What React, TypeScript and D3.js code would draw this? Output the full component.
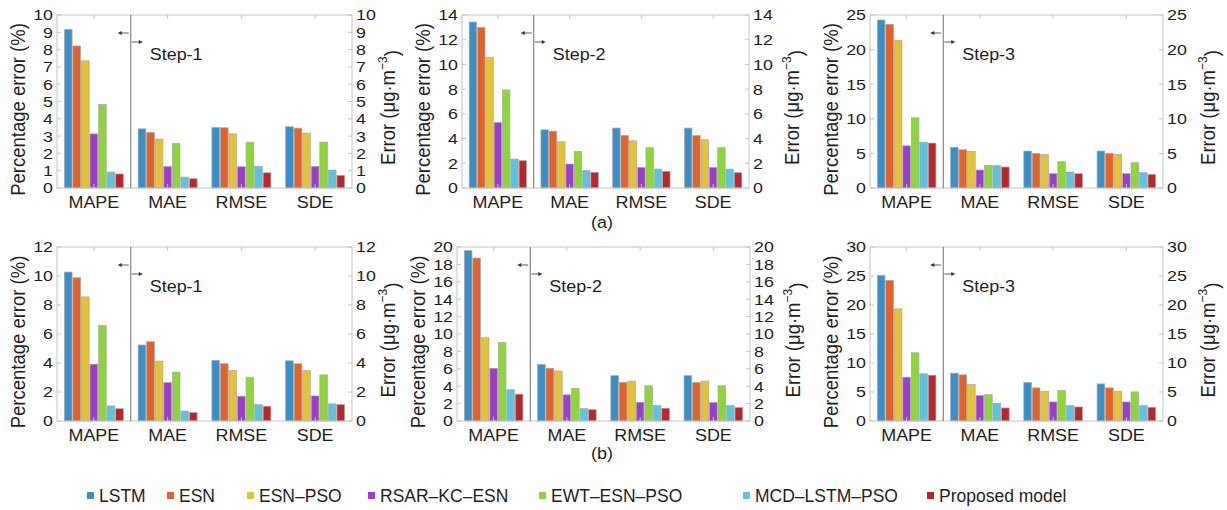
import React from "react";
import * as d3 from "d3";

const categories = ["MAPE", "MAE", "RMSE", "SDE"];
const models = ["LSTM", "ESN", "ESN\u2013PSO", "RSAR\u2013KC\u2013ESN", "EWT\u2013ESN\u2013PSO", "MCD\u2013LSTM\u2013PSO", "Proposed model"];

// values per category (MAPE, MAE, RMSE, SDE), each listing the 7 models
const aStep1 = [
  [9.17, 8.21, 7.35, 3.13, 4.83, 0.92, 0.81],
  [3.42, 3.21, 2.83, 1.25, 2.58, 0.63, 0.54],
  [3.5, 3.48, 3.13, 1.23, 2.65, 1.25, 0.88],
  [3.54, 3.46, 3.17, 1.25, 2.65, 1.04, 0.73],
];
const aStep2 = [
  [13.43, 13.0, 10.58, 5.3, 7.94, 2.34, 2.21],
  [4.71, 4.6, 3.74, 1.94, 2.96, 1.4, 1.27],
  [4.85, 4.25, 3.82, 1.67, 3.26, 1.53, 1.35],
  [4.85, 4.25, 3.9, 1.67, 3.26, 1.53, 1.24],
];
const aStep3 = [
  [24.28, 23.65, 21.35, 6.1, 10.14, 6.63, 6.49],
  [5.87, 5.53, 5.29, 2.6, 3.27, 3.22, 3.03],
  [5.34, 5.0, 4.86, 2.07, 3.8, 2.31, 2.07],
  [5.34, 5.0, 4.86, 2.07, 3.65, 2.21, 1.97],
];
const bStep1 = [
  [10.27, 9.88, 8.56, 3.92, 6.6, 1.04, 0.85],
  [5.24, 5.47, 4.13, 2.65, 3.37, 0.69, 0.58],
  [4.18, 3.95, 3.48, 1.71, 3.02, 1.13, 1.02],
  [4.15, 3.95, 3.48, 1.73, 3.18, 1.18, 1.13],
];
const bStep2 = [
  [19.58, 18.73, 9.58, 6.06, 9.03, 3.59, 3.09],
  [6.49, 6.06, 5.75, 3.01, 3.75, 1.43, 1.31],
  [5.21, 4.44, 4.59, 2.16, 4.05, 1.78, 1.47],
  [5.21, 4.44, 4.59, 2.12, 4.05, 1.78, 1.54],
];
const bStep3 = [
  [25.1, 24.23, 19.33, 7.56, 11.77, 8.14, 7.9],
  [8.25, 7.96, 6.29, 4.38, 4.56, 3.06, 2.25],
  [6.63, 5.71, 5.13, 3.29, 5.25, 2.65, 2.42],
  [6.4, 5.71, 5.13, 3.29, 5.02, 2.65, 2.37],
];

const yTicksA1 = [0, 1, 2, 3, 4, 5, 6, 7, 8, 9, 10];
const yTicksA2 = [0, 2, 4, 6, 8, 10, 12, 14];
const yTicksA3 = [0, 5, 10, 15, 20, 25];
const yTicksB1 = [0, 2, 4, 6, 8, 10, 12];
const yTicksB2 = [0, 2, 4, 6, 8, 10, 12, 14, 16, 18, 20];
const yTicksB3 = [0, 5, 10, 15, 20, 25, 30];

const stepLabels = ["Step-1", "Step-2", "Step-3"];
const captions = ["(a)", "(b)"];

const colors = ["#3b8ec6", "#e1632b", "#e4c238", "#9a3ec6", "#8fd43b", "#5dc3df", "#b6282f"];

const FONT = "'Liberation Sans', Arial, Helvetica, sans-serif";
const INK = "#1e1e1e";

const panels = [
  { data: aStep1, ticks: yTicksA1, step: 0, left: 57, right: 352, top: 15, bottom: 188, rOff: 36 },
  { data: aStep2, ticks: yTicksA2, step: 1, left: 462, right: 749, top: 15, bottom: 188, rOff: 43 },
  { data: aStep3, ticks: yTicksA3, step: 2, left: 870, right: 1163, top: 15, bottom: 188, rOff: 45 },
  { data: bStep1, ticks: yTicksB1, step: 0, left: 57, right: 352, top: 247, bottom: 421, rOff: 36 },
  { data: bStep2, ticks: yTicksB2, step: 1, left: 457, right: 750, top: 247, bottom: 421, rOff: 43 },
  { data: bStep3, ticks: yTicksB3, step: 2, left: 870, right: 1163, top: 247, bottom: 421, rOff: 45 },
];

function T({ x, y, size, sx = 1, rot = 0, anchor = "start", dy, children }: any) {
  return (
    <text
      transform={`translate(${x},${y}) scale(${sx},1)${rot ? ` rotate(${rot})` : ""}`}
      fontSize={size}
      textAnchor={anchor}
      dy={dy}
      fill={INK}
    >
      {children}
    </text>
  );
}

function Panel({ p }: { p: typeof panels[number] }) {
  const x = d3.scaleBand<string>().domain(categories).range([p.left, p.right]).paddingInner(0.2).paddingOuter(0.1);
  const xi = d3.scaleBand<string>().domain(models).range([0, x.bandwidth()]).paddingInner(0.1);
  const yMax = p.ticks[p.ticks.length - 1];
  const y = d3.scaleLinear().domain([0, yMax]).range([p.bottom, p.top]);
  const divider = p.left + x.step();
  const midY = (p.top + p.bottom) / 2;
  const frame = "#c4c4c4";
  return (
    <g>
      {categories.map((c, ci) =>
        p.data[ci].map((v, mi) => (
          <rect
            key={c + mi}
            x={(x(c) as number) + (xi(models[mi]) as number)}
            y={y(v)}
            width={xi.bandwidth()}
            height={p.bottom - y(v)}
            fill={colors[mi]}
            stroke="#a8a8a8"
            strokeWidth={0.7}
          />
        ))
      )}
      <rect x={p.left} y={p.top} width={p.right - p.left} height={p.bottom - p.top} fill="none" stroke={frame} strokeWidth={1} />
      {p.ticks.map((t) => (
        <g key={"t" + t}>
          <line x1={p.left} x2={p.left + 4} y1={y(t)} y2={y(t)} stroke={frame} />
          <line x1={p.right} x2={p.right - 4} y1={y(t)} y2={y(t)} stroke={frame} />
          <T x={p.left - 4} y={y(t)} dy="0.35em" anchor="end" size={15.5} sx={1.15}>{t}</T>
          <T x={p.right + 4} y={y(t)} dy="0.35em" anchor="start" size={15.5} sx={1.15}>{t}</T>
        </g>
      ))}
      {categories.map((c) => {
        const cx = (x(c) as number) + x.bandwidth() / 2;
        return (
          <g key={"x" + c}>
            <line x1={cx} x2={cx} y1={p.top} y2={p.top + 4} stroke={frame} />
            <line x1={cx} x2={cx} y1={p.bottom} y2={p.bottom - 4} stroke={frame} />
            <T x={cx} y={p.bottom + 20} anchor="middle" size={16.3} sx={1.1}>{c}</T>
          </g>
        );
      })}
      <line x1={divider} x2={divider} y1={p.top} y2={p.bottom} stroke="#707070" strokeWidth={1} />
      <line x1={divider - 2} x2={divider - 11} y1={p.top + 18} y2={p.top + 18} stroke="#333" strokeWidth={0.8} />
      <path d={`M${divider - 13},${p.top + 18} l4,-2 l0,4 z`} fill="#333" />
      <line x1={divider + 1} x2={divider + 10} y1={p.top + 27} y2={p.top + 27} stroke="#333" strokeWidth={0.8} />
      <path d={`M${divider + 12},${p.top + 27} l-4,-2 l0,4 z`} fill="#333" />
      <T x={divider + 19} y={p.top + 45} size={16.3} sx={1.1}>{stepLabels[p.step]}</T>
      <T x={p.left - 39} y={midY + 8} rot={-90} dy="0.35em" anchor="middle" size={18.5} sx={1.1}>
        Percentage error (%)
      </T>
      <T x={p.right + p.rOff} y={midY + 6} rot={-90} dy="0.35em" anchor="middle" size={18.5} sx={1.1}>
        Error (μg·m<tspan dy="-0.6em" fontSize={12}>−3</tspan><tspan dy="0.6em">)</tspan>
      </T>
    </g>
  );
}

const legendX = [87, 167, 247, 368, 539, 743, 927];

export default function App() {
  return (
    <svg width={1227} height={510} style={{ position: "absolute", left: 0, top: 0, background: "#fff" }} fontFamily={FONT}>
      <rect x={0} y={0} width={1227} height={510} fill="#fff" />
      {panels.map((p, i) => (
        <Panel key={i} p={p} />
      ))}
      <T x={602} y={228} anchor="middle" size={16.3} sx={1.1}>{captions[0]}</T>
      <T x={602} y={459} anchor="middle" size={16.3} sx={1.1}>{captions[1]}</T>
      {models.map((m, i) => (
        <g key={m}>
          <rect x={legendX[i]} y={492} width={7} height={7} fill={colors[i]} />
          <text x={legendX[i] + 12} y={502} fontSize={17.5} fill={INK}>{m}</text>
        </g>
      ))}
    </svg>
  );
}
